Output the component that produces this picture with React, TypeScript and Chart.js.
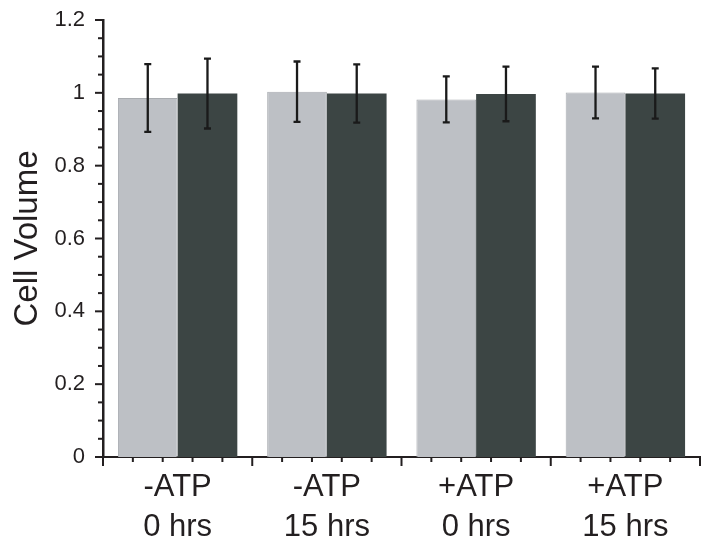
import React, { useEffect, useRef } from "react";
import { Chart, registerables } from "chart.js";

Chart.register(...registerables);

const categories: string[][] = [
  ["-ATP", "0 hrs"],
  ["-ATP", "15 hrs"],
  ["+ATP", "0 hrs"],
  ["+ATP", "15 hrs"],
];
const lightValues = [0.986, 1.003, 0.982, 1.001];
const lightErrors = [0.093, 0.083, 0.063, 0.071];
const darkValues = [0.998, 0.998, 0.997, 0.998];
const darkErrors = [0.096, 0.080, 0.075, 0.069];
const yTitle = "Cell Volume";
const yMajorLabels = ["0", "0.2", "0.4", "0.6", "0.8", "1", "1.2"];

const FONT = "'Liberation Sans', Arial, Helvetica, sans-serif";
const INK = "#231f20";

export default function App() {
  const ref = useRef<HTMLCanvasElement | null>(null);

  useEffect(() => {
    document.body.style.margin = "0";
    const canvas = ref.current;
    if (!canvas) return;

    const errorBars = {
      id: "errorBars",
      afterDatasetsDraw(chart: any) {
        const ctx = chart.ctx;
        const y = chart.scales.y;
        const errs = [lightErrors, darkErrors];
        ctx.save();
        ctx.strokeStyle = "#1a1a1a";
        ctx.lineWidth = 2.3;
        chart.data.datasets.forEach((ds: any, di: number) => {
          const meta = chart.getDatasetMeta(di);
          meta.data.forEach((bar: any, i: number) => {
            const v = ds.data[i];
            const e = errs[di][i];
            const top = y.getPixelForValue(v + e);
            const bot = y.getPixelForValue(v - e);
            const x = bar.x;
            ctx.beginPath();
            ctx.moveTo(x, top);
            ctx.lineTo(x, bot);
            ctx.moveTo(x - 3.5, top);
            ctx.lineTo(x + 3.5, top);
            ctx.moveTo(x - 3.5, bot);
            ctx.lineTo(x + 3.5, bot);
            ctx.stroke();
          });
        });
        ctx.restore();
      },
    };

    const axisTicks = {
      id: "axisTicks",
      afterDraw(chart: any) {
        const ctx = chart.ctx;
        const ys = chart.scales.y;
        const xs = chart.scales.x;
        const area = chart.chartArea;
        ctx.save();
        ctx.strokeStyle = INK;
        ctx.lineWidth = 2;
        ys.ticks.forEach((t: any) => {
          const py = ys.getPixelForValue(t.value);
          const major = t.label !== "";
          ctx.beginPath();
          ctx.moveTo(area.left - (major ? 8 : 5), py);
          ctx.lineTo(area.left, py);
          ctx.stroke();
        });
        const n = categories.length;
        const c0 = xs.getPixelForValue(0);
        const cw = xs.getPixelForValue(1) - c0;
        const start = c0 - cw / 2;
        for (let i = 0; i <= n * 5; i++) {
          const px = start + (i * cw) / 5;
          const major = i % 5 === 0;
          ctx.beginPath();
          ctx.moveTo(px, area.bottom);
          ctx.lineTo(px, area.bottom + (major ? 9 : 5));
          ctx.stroke();
        }
        ctx.restore();
      },
    };

    const chart = new Chart(canvas, {
      type: "bar",
      data: {
        labels: categories,
        datasets: [
          {
            data: lightValues,
            backgroundColor: "#bdc0c5",
            borderColor: "#a9acb0",
            borderWidth: 1,
            categoryPercentage: 0.8,
            barPercentage: 1,
          },
          {
            data: darkValues,
            backgroundColor: "#3c4544",
            borderColor: "#3c4544",
            borderWidth: 0,
            categoryPercentage: 0.8,
            barPercentage: 1,
          },
        ],
      },
      options: {
        animation: false,
        responsive: false,
        maintainAspectRatio: false,
        layout: { padding: { top: 20, right: 14, left: 0, bottom: 0 } },
        plugins: { legend: { display: false }, tooltip: { enabled: false } },
        scales: {
          x: {
            grid: { display: false, drawTicks: false },
            border: { display: true, color: INK, width: 2 },
            ticks: {
              color: INK,
              font: { family: FONT, size: 31, lineHeight: 1.3 },
              padding: 10,
              autoSkip: false,
              maxRotation: 0,
            },
            afterFit: (s: any) => {
              s.height = 95;
              s.paddingLeft = 0;
              s.paddingRight = 0;
            },
          },
          y: {
            min: 0,
            max: 1.2,
            grid: { display: false, drawTicks: false },
            border: { display: true, color: INK, width: 2.5 },
            ticks: {
              stepSize: 0.05,
              autoSkip: false,
              color: INK,
              padding: 18,
              font: { family: FONT, size: 22 },
              callback: (v: any) => {
                const k = Math.round(Number(v) * 100);
                return k % 20 === 0 ? yMajorLabels[k / 20] : "";
              },
            },
            title: {
              display: true,
              text: yTitle,
              color: INK,
              font: { family: FONT, size: 33 },
              padding: { top: 8, bottom: 0 },
            },
            afterFit: (s: any) => {
              s.width = 103;
              s.paddingTop = 0;
              s.paddingBottom = 0;
            },
          },
        },
      },
      plugins: [errorBars, axisTicks],
    });

    return () => chart.destroy();
  }, []);

  return (
    <div style={{ width: 714, height: 552, background: "#fff" }}>
      <canvas ref={ref} width={714} height={552} />
    </div>
  );
}
